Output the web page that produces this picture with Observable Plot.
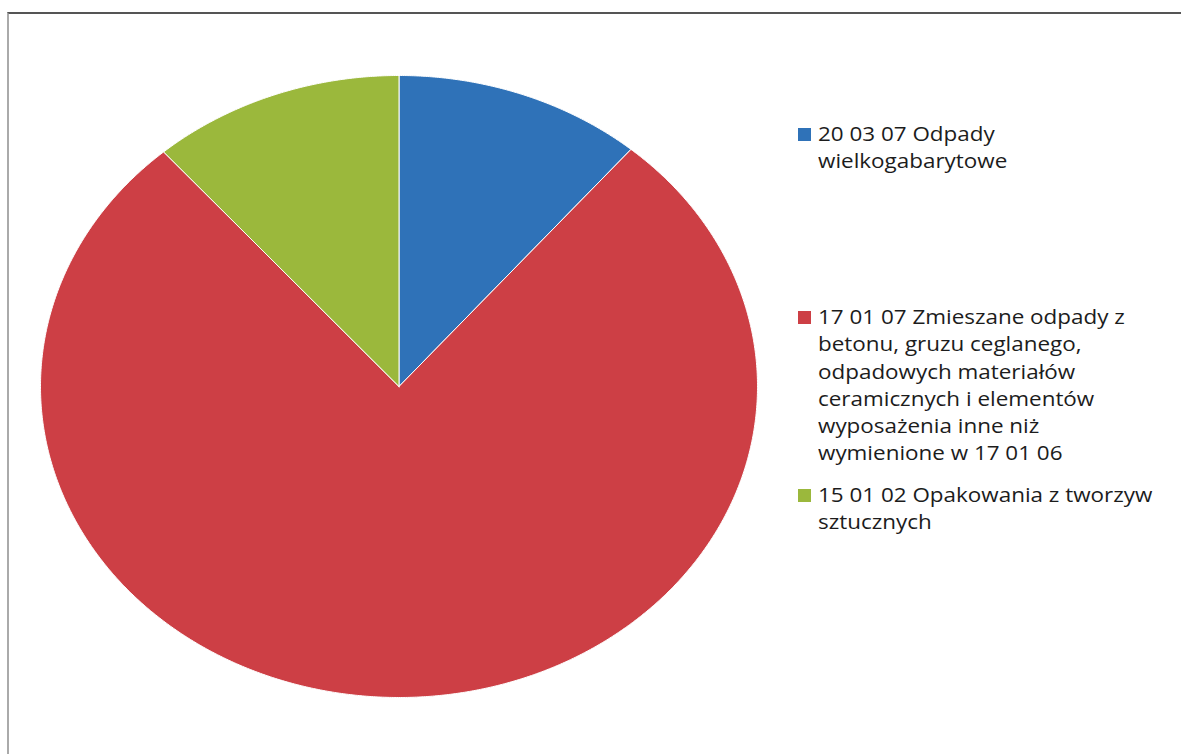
<!DOCTYPE html>
<html>
<head>
<meta charset="utf-8">
<script src="https://cdn.jsdelivr.net/npm/d3@7"></script>
<script src="https://cdn.jsdelivr.net/npm/@observablehq/plot@0.6"></script>
<style>
  body { margin: 0; background: #fff; }
  #wrap { position: relative; width: 1181px; height: 754px; overflow: hidden; background: #fff; }
  #frame { position: absolute; left: 7px; top: 12px; width: 1300px; height: 900px;
           border-top: 2px solid #555; border-left: 2px solid #aaa; }
  #chart { position: absolute; left: 0; top: 0; }
  #legend { position: absolute; left: 798px; top: 0; font-family: "Open Sans", sans-serif;
            font-size: 19.5px; font-weight: 500; color: #1c1c1c; line-height: 27.3px; }
  .item { position: absolute; left: 0; white-space: nowrap; }
  .sw { position: absolute; left: 0; top: 8px; width: 13px; height: 13px; }
  .txt { position: absolute; left: 20px; top: 0; transform: scaleX(1.15); transform-origin: 0 0; }
</style>
</head>
<body>
<div id="wrap">
  <div id="frame"></div>
  <div id="chart"></div>
  <div id="legend"></div>
</div>
<script>
// Data
const categories = [
  "20 03 07 Odpady wielkogabarytowe",
  "17 01 07 Zmieszane odpady z betonu, gruzu ceglanego, odpadowych materiałów ceramicznych i elementów wyposażenia inne niż wymienione w 17 01 06",
  "15 01 02 Opakowania z tworzyw sztucznych"
];
const values = [11.2, 77.4, 11.4];
const colors = ["#2f72b8", "#cd3f45", "#9bb83c"];
const legendLines = [
  ["20 03 07 Odpady", "wielkogabarytowe"],
  ["17 01 07 Zmieszane odpady z", "betonu, gruzu ceglanego,", "odpadowych materiałów", "ceramicznych i elementów", "wyposażenia inne niż", "wymienione w 17 01 06"],
  ["15 01 02 Opakowania z tworzyw", "sztucznych"]
];
const legendTops = [120, 303, 481];

const data = categories.map((c, i) => ({category: c, value: values[i]}));
const arcs = d3.pie().sort(null).value(d => d.value)(data);

// polygon points for each slice
const pts = [];
arcs.forEach((a, i) => {
  const cat = a.data.category;
  pts.push({category: cat, x: 0, y: 0});
  const n = Math.max(4, Math.ceil((a.endAngle - a.startAngle) / 0.005));
  for (let k = 0; k <= n; k++) {
    const t = a.startAngle + (a.endAngle - a.startAngle) * k / n;
    pts.push({category: cat, x: Math.sin(t), y: Math.cos(t)});
  }
  pts.push({category: cat, x: 0, y: 0});
});

const plot = Plot.plot({
  width: 1181,
  height: 754,
  margin: 0,
  x: {domain: [-1, 1], range: [40, 757], axis: null},
  y: {domain: [-1, 1], range: [697, 75], axis: null},
  color: {domain: categories, range: colors},
  style: {background: "transparent"},
  marks: [
    Plot.line(pts, {x: "x", y: "y", z: "category", fill: "category", stroke: "#fff", strokeWidth: 1, curve: "linear-closed"})
  ]
});
document.getElementById("chart").appendChild(plot);

const leg = document.getElementById("legend");
categories.forEach((c, i) => {
  const it = document.createElement("div");
  it.className = "item";
  it.style.top = legendTops[i] + "px";
  const sw = document.createElement("div");
  sw.className = "sw";
  sw.style.background = colors[i];
  const tx = document.createElement("div");
  tx.className = "txt";
  tx.innerHTML = legendLines[i].join("<br>");
  it.appendChild(sw);
  it.appendChild(tx);
  leg.appendChild(it);
});
</script>
</body>
</html>
